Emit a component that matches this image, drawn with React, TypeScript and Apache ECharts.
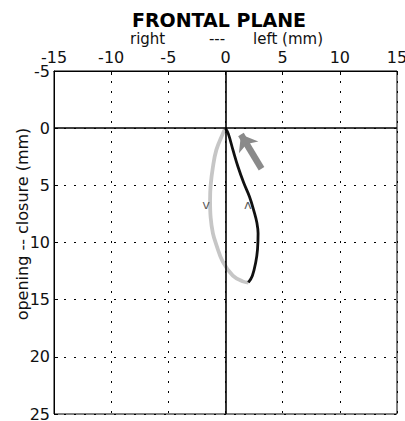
import React, { useEffect, useRef } from "react";
import * as echarts from "echarts";

const xTicks = [-15, -10, -5, 0, 5, 10, 15];
const yTicks = [-5, 0, 5, 10, 15, 20, 25];

// descending (opening) trace, light gray
const grayX = [0, -0.24, -0.8, -1.1, -1.3, -1.35, -1.3, -1.1, -0.8, -0.23, 0.64, 1.5, 2.0];
const grayY = [0, 0.5, 1.9, 3.4, 5.0, 6.3, 7.8, 9.2, 10.2, 11.7, 12.9, 13.4, 13.5];

// ascending (closure) trace, black
const blackX = [2.0, 2.35, 2.65, 2.8, 2.85, 2.75, 2.5, 2.1, 1.6, 1.1, 0.65, 0.25, 0];
const blackY = [13.5, 12.9, 11.7, 10.6, 9.2, 8.3, 7.3, 6.0, 4.8, 3.4, 1.9, 0.5, 0];

// arrow (data coords): tail -> head
const arrowTail = [3.15, 3.55];
const arrowHead = [1.35, 0.55];

// direction markers
const markerTexts = ["v", "ʌ"];
const markerX = [-1.7, 1.95];
const markerY = [6.7, 6.7];

const FONT = "DejaVu Sans";

export default function App() {
  const ref = useRef<HTMLDivElement>(null);
  useEffect(() => {
    if (!ref.current) return;
    const chart = echarts.init(ref.current, null, { renderer: "svg" });
    const gridDash = {
      color: "#000",
      width: 1,
      type: [2, 8] as any,
    };
    chart.setOption({
      animation: false,
      backgroundColor: "#fff",
      grid: {
        left: 54,
        right: 8,
        top: 71,
        bottom: 7,
        show: true,
        borderColor: "#000",
        borderWidth: 1,
        backgroundColor: "transparent",
        containLabel: false,
        outerBoundsMode: "none",
      },
      xAxis: {
        type: "value",
        position: "top",
        min: xTicks[0],
        max: xTicks[xTicks.length - 1],
        interval: 5,
        axisLine: { show: true, onZero: false, lineStyle: { color: "#000", width: 1 } },
        axisTick: { show: true, inside: true, length: 4, lineStyle: { color: "#000" } },
        axisLabel: {
          show: true,
          margin: 6,
          fontFamily: FONT,
          fontSize: 16,
          color: "#111",
        },
        splitLine: { show: true, lineStyle: gridDash },
      },
      yAxis: {
        type: "value",
        inverse: true,
        min: yTicks[0],
        max: yTicks[yTicks.length - 1],
        interval: 5,
        axisLine: { show: true, onZero: false, lineStyle: { color: "#000", width: 1 } },
        axisTick: { show: true, inside: true, length: 4, lineStyle: { color: "#000" } },
        axisLabel: {
          show: true,
          margin: 4,
          fontFamily: FONT,
          fontSize: 16,
          color: "#111",
        },
        splitLine: { show: true, lineStyle: gridDash },
      },
      graphic: [
        {
          type: "text",
          x: 219,
          y: 20,
          style: {
            text: "FRONTAL PLANE",
            fontFamily: FONT,
            fontWeight: "bold",
            fontSize: 19,
            fill: "#000",
            align: "center",
            verticalAlign: "middle",
          },
        },
        {
          type: "text",
          x: 130,
          y: 39,
          style: { text: "right", fontFamily: FONT, fontSize: 15, fill: "#111", align: "left", verticalAlign: "middle" },
        },
        {
          type: "text",
          x: 217,
          y: 39,
          style: { text: "---", fontFamily: FONT, fontSize: 15, fill: "#111", align: "center", verticalAlign: "middle" },
        },
        {
          type: "text",
          x: 253,
          y: 39,
          style: { text: "left (mm)", fontFamily: FONT, fontSize: 15, fill: "#111", align: "left", verticalAlign: "middle" },
        },
        {
          type: "text",
          x: 22,
          y: 224,
          rotation: Math.PI / 2,
          style: {
            text: "opening -- closure (mm)",
            fontFamily: FONT,
            fontSize: 16,
            fill: "#111",
            align: "center",
            verticalAlign: "middle",
          },
        },
      ],
      series: [
        {
          type: "line",
          data: grayX.map((x, i) => [x, grayY[i]]),
          smooth: 0.4,
          showSymbol: false,
          symbol: "none",
          lineStyle: { color: "#c6c6c6", width: 3.8 },
          z: 3,
          markLine: {
            silent: true,
            symbol: ["none", "none"],
            label: { show: false },
            lineStyle: { color: "#000", width: 1.6, type: "solid" },
            data: [{ xAxis: 0 }, { yAxis: 0 }],
          },
        },
        {
          type: "line",
          data: blackX.map((x, i) => [x, blackY[i]]),
          smooth: 0.4,
          showSymbol: false,
          symbol: "none",
          lineStyle: { color: "#111", width: 2.8 },
          z: 4,
          markLine: {
            silent: true,
            symbol: ["none", "arrow"],
            symbolSize: [17, 15],
            label: { show: false },
            lineStyle: { color: "#8a8a8a", width: 6.5, type: "solid" },
            itemStyle: { color: "#8a8a8a" },
            data: [[{ coord: arrowTail }, { coord: arrowHead }]],
          },
        },
        {
          type: "scatter",
          data: markerX.map((x, i) => [x, markerY[i], markerTexts[i]]),
          symbolSize: 0,
          label: {
            show: true,
            position: "inside",
            formatter: (p: any) => p.data[2],
            fontFamily: FONT,
            fontSize: 13,
            color: "#333",
          },
          z: 5,
        },
      ],
    });
    return () => chart.dispose();
  }, []);
  return (
    <div
      ref={ref}
      style={{ position: "fixed", left: 0, top: 0, width: 405, height: 421, background: "#fff" }}
    />
  );
}
